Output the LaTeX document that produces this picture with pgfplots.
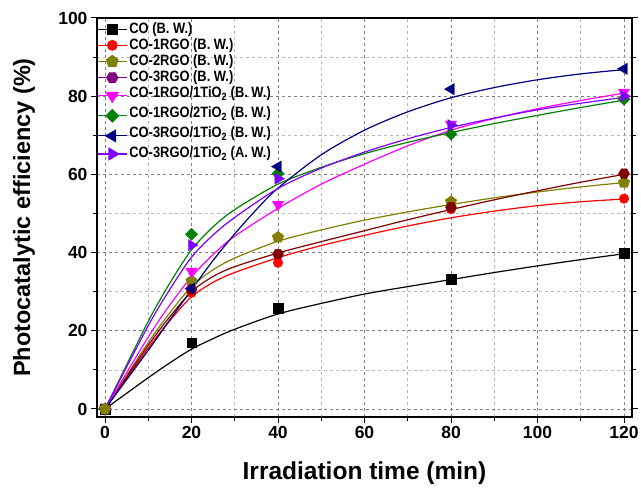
\documentclass[border=0pt]{standalone}
\usepackage{pgfplots}
\pgfplotsset{compat=1.18}
\usepackage{fontspec}
\setmainfont{Liberation Sans}
\newfontfamily\legfont{Liberation Sans}[FakeStretch=0.86]
\definecolor{cnavy}{RGB}{0,0,128}
\definecolor{cviolet}{RGB}{128,0,255}
\definecolor{colive}{RGB}{128,128,0}
\definecolor{cgreen}{RGB}{0,128,0}
\definecolor{cmag}{RGB}{255,0,255}
\definecolor{cmaroon}{RGB}{128,0,0}
\definecolor{cpurple}{RGB}{128,0,128}
\definecolor{cred}{RGB}{255,0,0}
\newcommand{\dstrut}{\rule[-7bp]{0pt}{7bp}}
\newcommand{\nstrut}{\rule[-2.6bp]{0pt}{7bp}}
\pgfdeclareplotmark{hexagon*}{%
 \pgfpathmoveto{\pgfpointpolar{0}{\pgfplotmarksize}}%
 \pgfpathlineto{\pgfpointpolar{60}{\pgfplotmarksize}}%
 \pgfpathlineto{\pgfpointpolar{120}{\pgfplotmarksize}}%
 \pgfpathlineto{\pgfpointpolar{180}{\pgfplotmarksize}}%
 \pgfpathlineto{\pgfpointpolar{240}{\pgfplotmarksize}}%
 \pgfpathlineto{\pgfpointpolar{300}{\pgfplotmarksize}}%
 \pgfpathclose\pgfusepathqfillstroke}
\pgfplotsset{
 lg/.style={legend image code/.code={\draw[mark repeat=2,mark phase=2,##1,sharp plot,line width=1.2bp] plot coordinates {(0bp,0bp)(14.5bp,0bp)(29bp,0bp)};}},
 lgp/.style={legend image code/.code={\draw[mark repeat=2,mark phase=2,##1,sharp plot,line width=1.2bp,draw=cpurple,fill=cpurple,mark options={draw=cpurple,fill=cpurple}] plot coordinates {(0bp,0bp)(14.5bp,0bp)(29bp,0bp)};}},
 crv/.style={smooth, tension=0.5, no marks, line width=1.2bp, forget plot},
 pts/.style={only marks, mark options={solid, fill=#1, draw=#1}, color=#1, lg},
}
\begin{document}
\begin{tikzpicture}
\path[use as bounding box] (-97bp,-75bp) rectangle (544bp,417bp);
\begin{axis}[
 scale only axis, width=535bp, height=399bp,
 at={(0,0)}, anchor=south west,
 xmin=-1.85, xmax=121.85, ymin=-2.05, ymax=100,
 xtick={0,20,...,120}, ytick={0,20,...,100},
 minor tick num=1,
 grid=both,
 major grid style={dashed, color=black!50, line width=0.7bp},
 minor grid style={dashed, color=black!28, line width=0.7bp},
 tick align=outside, xtick pos=bottom, ytick pos=both,
 major tick length=6bp, minor tick length=4bp,
 every tick/.style={black, line width=1bp},
 axis line style={line width=1.3bp},
 /pgf/number format/assume math mode=true,
 ticklabel style={font=\fontsize{17.5bp}{20bp}\selectfont\bfseries},
 xlabel={Irradiation time (min)},
 ylabel={Photocatalytic efficiency (\%)},
 xlabel style={at={(axis description cs:0.5,-0.1404)}, anchor=center, font=\fontsize{24.5bp}{28bp}\selectfont\bfseries},
 ylabel style={at={(axis description cs:-0.1364,0.5)}, anchor=center, font=\fontsize{23.5bp}{27bp}\selectfont\bfseries},
 legend cell align=left,
 legend style={at={(axis description cs:0,1)}, anchor=north west, draw=none, fill=none,
   inner xsep=0pt, inner ysep=2pt, row sep=-1.8bp,
   nodes={text depth=},
   font=\legfont\bfseries\fontsize{15bp}{17bp}\selectfont},
]
% fitted curves
\addplot[crv, black] coordinates {(0,0)(10,8.0)(15,11.8)(20,15.3)(25,18.0)(30,20.4)(40,24.3)(50,27.0)(60,29.4)(70,31.3)(80,33.1)(90,34.9)(100,36.6)(110,38.2)(120,39.7)};
\addplot[crv, cred] coordinates {(0,0)(10,15.6)(15,22.6)(20,28.7)(25,32.4)(30,34.9)(40,38.7)(50,41.8)(60,44.4)(70,46.8)(80,48.9)(90,50.6)(100,52.0)(110,53.0)(120,53.7)};
\addplot[crv, colive] coordinates {(0,0)(10,17.0)(15,24.6)(20,31.3)(25,35.6)(30,38.6)(40,42.9)(50,45.8)(60,48.3)(70,50.4)(80,52.3)(90,54.0)(100,55.5)(110,56.8)(120,57.9)};
\addplot[crv, cmaroon] coordinates {(0,0)(10,16.3)(15,23.6)(20,30.0)(25,33.9)(30,36.4)(40,39.9)(50,42.8)(60,45.6)(70,48.4)(80,51.0)(90,53.5)(100,55.8)(110,58.0)(120,60.0)};
\addplot[crv, cmag] coordinates {(0,0)(10,18.4)(15,26.6)(20,33.8)(25,39.5)(30,44.2)(40,51.3)(50,57.5)(60,62.6)(70,67.3)(80,71.3)(90,74.3)(100,76.8)(110,78.9)(120,80.8)};
\addplot[crv, cgreen] coordinates {(0,0)(10,22.4)(15,32.2)(20,40.7)(25,46.6)(30,51.0)(40,57.5)(50,61.8)(60,65.3)(70,68.2)(80,70.7)(90,73.0)(100,75.1)(110,77.1)(120,79.0)};
\addplot[crv, cnavy] coordinates {(0,0)(10,15.0)(15,22.8)(20,30.5)(25,38.0)(30,44.8)(35,51.0)(40,56.5)(50,65.0)(60,71.3)(70,76.0)(80,79.6)(90,82.2)(100,84.2)(110,85.7)(120,86.8)};
\addplot[crv, cviolet] coordinates {(0,0)(10,21.3)(15,30.6)(20,38.8)(25,44.5)(30,49.0)(40,56.4)(50,61.6)(60,65.7)(70,69.1)(80,72.0)(90,74.4)(100,76.5)(110,78.2)(120,79.7)};
% measured points
\addplot[pts=black, mark=square*, mark size=4.8bp] coordinates {(0,0)(20,17.0)(40,25.8)(80,33.2)(120,39.8)};
\addlegendentry{CO (B. W.)\nstrut}
\addplot[pts=cred, mark=*, mark size=4.8bp] coordinates {(0,0)(20,29.7)(40,37.4)(80,51.1)(120,53.8)};
\addlegendentry{CO-1RGO (B. W.)\nstrut}
\addplot[pts=colive, mark=pentagon*, mark size=6bp] coordinates {(0,0)(20,32.7)(40,43.9)(80,53.0)(120,57.9)};
\addlegendentry{CO-2RGO (B. W.)\nstrut}
\addplot[pts=cmaroon, lgp, mark=hexagon*, mark size=5.5bp] coordinates {(0,0)(20,30.6)(40,39.6)(80,51.6)(120,60.2)};
\addlegendentry{CO-3RGO (B. W.)\nstrut}
\addplot[pts=cmag, mark=triangle*, mark size=6.5bp, mark options={rotate=180}] coordinates {(0,0)(20,35.2)(40,52.3)(80,72.8)(120,81.0)};
\addlegendentry{CO-1RGO/1TiO\textsubscript{2} (B. W.)\dstrut}
\addplot[pts=cgreen, mark=square*, mark size=4.3bp, mark options={rotate=45}] coordinates {(0,0)(20,44.7)(40,60.2)(80,70.3)(120,79.2)};
\addlegendentry{CO-1RGO/2TiO\textsubscript{2} (B. W.)\dstrut}
\addplot[pts=cnavy, mark=triangle*, mark size=6.5bp, mark options={rotate=90}] coordinates {(0,0)(20,30.8)(40,62.0)(80,81.8)(120,87.0)};
\addlegendentry{CO-3RGO/1TiO\textsubscript{2} (B. W.)\dstrut}
\addplot[pts=cviolet, mark=triangle*, mark size=6.5bp, mark options={rotate=-90}] coordinates {(0,0)(20,41.9)(40,58.9)(80,72.6)(120,80.0)};
\addlegendentry{CO-3RGO/1TiO\textsubscript{2} (A. W.)}
\addplot[only marks, colive, mark=pentagon*, mark size=6bp, mark options={fill=colive}, forget plot] coordinates {(0,0)};
\end{axis}
\end{tikzpicture}
\end{document}
